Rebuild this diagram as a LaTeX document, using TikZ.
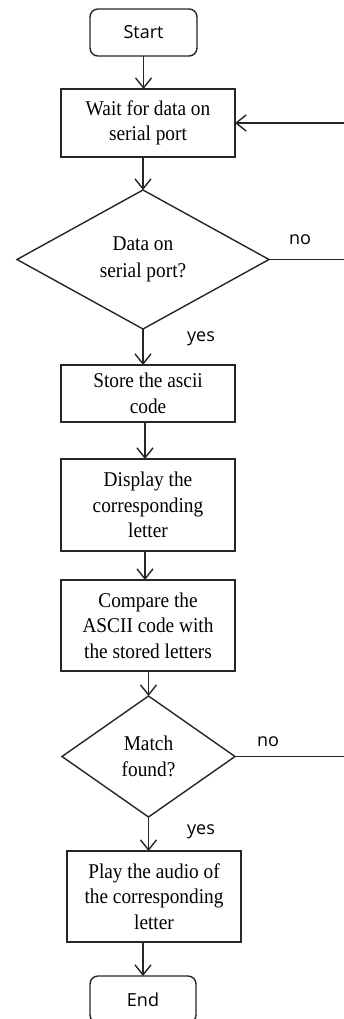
\documentclass[tikz,border=0pt]{standalone}
\usepackage{fontspec}
\setmainfont{Liberation Serif}
\newfontfamily\boxfont[FakeStretch=0.92]{Liberation Serif}
\newfontfamily\labfont{Open Sans}
\usetikzlibrary{shapes.geometric,arrows.meta}
\begin{document}
\begin{tikzpicture}[x=1pt,y=-1pt,
  line width=1.4pt,
  every node/.style={inner sep=0pt, outer sep=0pt},
  proc/.style={draw=black!85, rectangle, minimum width=174pt, align=center,
    font=\boxfont\fontsize{21}{25.5}\selectfont},
  term/.style={draw=black!85, rectangle, rounded corners=8pt, minimum width=107pt, minimum height=47pt,
    font=\labfont\fontsize{18}{22}\selectfont},
  dec/.style={draw=black!85, diamond, aspect=1.8, align=center,
    font=\boxfont\fontsize{21}{26.5}\selectfont},
  lab/.style={font=\labfont\fontsize{18}{22}\selectfont},
  flow/.style={draw=black!85, -{Straight Barb[length=10pt,width=16pt]}},
  plain/.style={draw=black!85}
]
\clip (0,0) rectangle (344,1019);
\fill[white] (0,0) rectangle (344,1019);

\node[term] (start) at (143.5,32.5) {Start};
\node[proc, minimum height=68pt] (wait) at (148,123) {Wait for data on\\serial port};
\node[dec, minimum width=252pt, minimum height=139pt] (d1) at (143,259.5) {Data on\\serial port?};
\node[proc, minimum height=57pt] (store) at (148,393.5) {Store the ascii\\code};
\node[proc, minimum height=92pt] (disp) at (148,505) {Display the\\corresponding\\letter};
\node[proc, minimum height=91pt] (comp) at (148,625.5) {Compare the\\ASCII code with\\the stored letters};
\node[dec, minimum width=173pt, minimum height=121pt] (d2) at (148.5,756.5) {Match\\found?};
\node[proc, minimum height=91pt] (play) at (154,896.5) {Play the audio of\\the corresponding\\letter};
\node[term, minimum width=106pt] (end) at (143,999.5) {End};

\node[lab] (no1) at (300,240) {no};
\node[lab] (yes1) at (201,339) {yes};
\node[lab] (no2) at (268,742) {no};
\node[lab] (yes2) at (201,832) {yes};

\coordinate (r0) at (346,123);
\coordinate (r1) at (346,259.5);
\coordinate (r2) at (346,756.5);

\draw[flow] (start.south) -- (start.south |- wait.north);
\draw[flow] (d1.north |- wait.south) -- (d1.north);
\draw[flow] (d1.south) -- (d1.south |- store.north);
\draw[flow] ([xshift=-3pt]store.south) -- ([xshift=-3pt]disp.north);
\draw[flow] ([xshift=-3pt]disp.south) -- ([xshift=-3pt]comp.north);
\draw[flow] (d2.north |- comp.south) -- (d2.north);
\draw[flow] (d2.south) -- (d2.south |- play.north);
\draw[flow] (end.north |- play.south) -- (end.north);
\draw[flow] (r0) -- (wait.east);
\draw[plain] (d1.east) -- (r1);
\draw[plain] (d2.east) -- (r2);
\end{tikzpicture}
\end{document}
